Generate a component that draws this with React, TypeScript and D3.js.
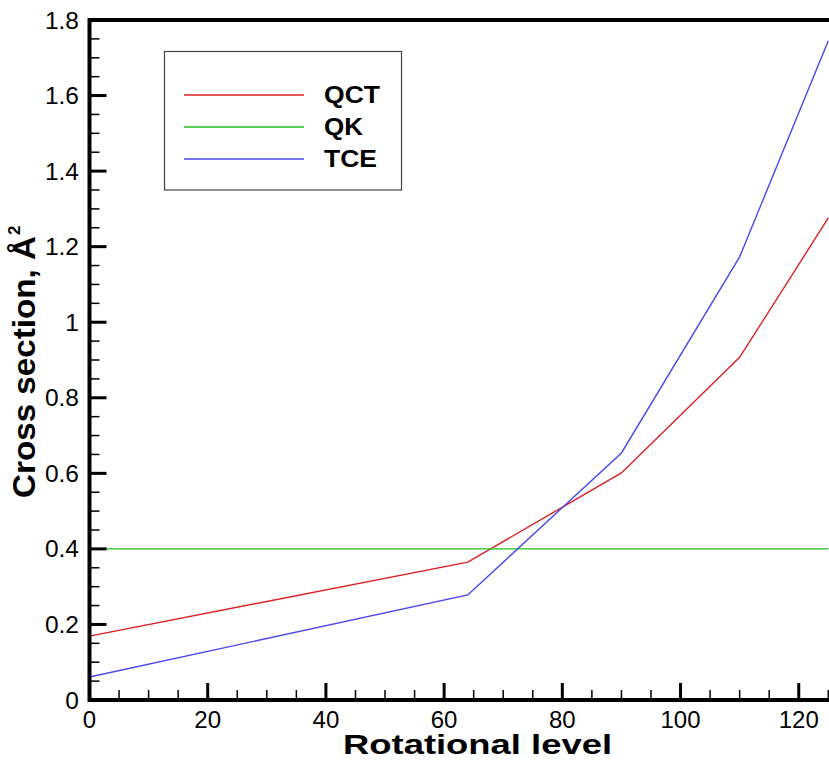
import React from "react";
import * as d3 from "d3";

const W = 829;
const H = 760;

const levels = [0, 64, 90, 110, 125];
const qct = [0.169, 0.365, 0.601, 0.907, 1.276];
const tce = [0.061, 0.278, 0.654, 1.173, 1.745];
const qk = [0.4, 0.4, 0.4, 0.4, 0.4];

const seriesNames = ["QCT", "QK", "TCE"];
const seriesColors = ["#dd2020", "#20c020", "#4848ee"];
const seriesValues = [qct, qk, tce];
const legendWidths = [56, 39, 53];

const xTicks = [0, 20, 40, 60, 80, 100, 120];
const yTicks = [0, 0.2, 0.4, 0.6, 0.8, 1, 1.2, 1.4, 1.6, 1.8];

export default function App() {
  const x = d3.scaleLinear().domain([0, 125]).range([89.5, 828.3]);
  const y = d3.scaleLinear().domain([0, 1.8]).range([700, 20]);
  const line = d3
    .line<number>()
    .x((_, i) => x(levels[i]))
    .y((d) => y(d));

  const xMinor = d3.range(0, 126, 5).filter((v) => v % 20 !== 0);
  const yMinor = d3.range(0, 1.8001, 0.05).filter((v) => Math.abs(v * 5 - Math.round(v * 5)) > 1e-6);

  const font = "'Liberation Sans', Arial, Helvetica, sans-serif";

  return (
    <svg
      width={W}
      height={H}
      style={{ position: "absolute", left: 0, top: 0, background: "#fff" }}
      fontFamily={font}
    >
      <defs>
        <clipPath id="clip">
          <rect x={89.5} y={20} width={W - 89.5} height={680} />
        </clipPath>
      </defs>
      <g clipPath="url(#clip)">
        {seriesValues.map((vals, i) => (
          <path key={i} d={line(vals) || ""} fill="none" stroke={seriesColors[i]} strokeWidth={1.4} />
        ))}
      </g>
      {/* axes lines */}
      <line x1={x(0)} x2={W} y1={y(0)} y2={y(0)} stroke="#000" strokeWidth={4} />
      <line x1={x(0)} x2={W} y1={y(1.8)} y2={y(1.8)} stroke="#000" strokeWidth={4} />
      <line x1={x(0)} x2={x(0)} y1={y(1.8) - 2} y2={y(0) + 2} stroke="#000" strokeWidth={4} />
      {/* x ticks */}
      {xTicks.map((t) => (
        <g key={"xt" + t}>
          {t !== 0 && <line x1={x(t)} x2={x(t)} y1={y(0)} y2={y(0) - 17} stroke="#000" strokeWidth={3} />}
          <text x={x(t)} y={728} textAnchor="middle" fontSize={24} fill="#000">
            {t}
          </text>
        </g>
      ))}
      {xMinor.map((t) => (
        <line key={"xm" + t} x1={x(t)} x2={x(t)} y1={y(0)} y2={y(0) - 10} stroke="#000" strokeWidth={1.5} />
      ))}
      {/* y ticks */}
      {yTicks.map((t) => (
        <g key={"yt" + t}>
          {t !== 0 && t !== 1.8 && (
            <line x1={x(0)} x2={x(0) + 17} y1={y(t)} y2={y(t)} stroke="#000" strokeWidth={3} />
          )}
          <text x={79} y={y(t) + 8.5} textAnchor="end" fontSize={24.5} fill="#000">
            {d3.format("~g")(t)}
          </text>
        </g>
      ))}
      {yMinor.map((t) => (
        <line key={"ym" + t} x1={x(0)} x2={x(0) + 10} y1={y(t)} y2={y(t)} stroke="#000" strokeWidth={1.5} />
      ))}
      {/* axis titles */}
      <text
        x={343}
        y={754}
        fontSize={28}
        fontWeight="bold"
        fill="#000"
        textLength={269}
        lengthAdjust="spacingAndGlyphs"
      >
        Rotational level
      </text>
      <g transform="translate(35, 498) rotate(-90)">
        <text
          x={0}
          y={0}
          fontSize={31}
          fontWeight="bold"
          fill="#000"
          textLength={262}
          lengthAdjust="spacingAndGlyphs"
        >
          Cross section, Å
        </text>
        <text x={263} y={-15} fontSize={17} fontWeight="bold" fill="#000">
          2
        </text>
      </g>
      {/* legend */}
      <rect x={164.5} y={51.5} width={237} height={138.5} fill="#fff" stroke="#444" strokeWidth={1.2} />
      {seriesNames.map((n, i) => (
        <g key={n}>
          <line x1={184} x2={304} y1={95 + i * 32} y2={95 + i * 32} stroke={seriesColors[i]} strokeWidth={1.4} />
          <text
            x={324}
            y={95 + i * 32 + 8.3}
            fontSize={23}
            fontWeight="bold"
            fill="#000"
            textLength={legendWidths[i]}
            lengthAdjust="spacingAndGlyphs"
          >
            {n}
          </text>
        </g>
      ))}
    </svg>
  );
}
